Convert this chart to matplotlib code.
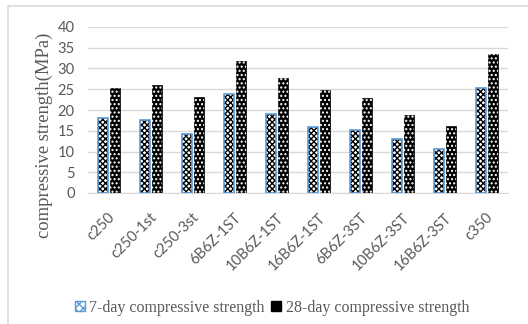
import matplotlib
matplotlib.use("Agg")
import matplotlib.pyplot as plt
import matplotlib.transforms as mtransforms
from matplotlib.patches import Rectangle, Patch
import numpy as np

categories = ["c250", "c250-1st", "c250-3st", "6B6Z-1ST", "10B6Z-1ST", "16B6Z-1ST",
              "6B6Z-3ST", "10B6Z-3ST", "16B6Z-3ST", "c350"]
day7 = [18.1, 17.6, 14.1, 23.9, 19.0, 16.0, 15.3, 12.9, 10.5, 25.2]
day28 = [25.2, 26.0, 23.1, 31.7, 27.8, 24.9, 22.9, 18.7, 16.1, 33.6]
yticks = [0, 5, 10, 15, 20, 25, 30, 35, 40]

GRAY = "#595959"
BLUE = "#5B9BD5"
plt.rcParams['hatch.linewidth'] = 1.0

fig = plt.figure(figsize=(5.28, 3.24), dpi=100)
ax = fig.add_axes([88/528, 1-193/324, 420/528, 166/324])

x = np.arange(len(categories))
w = 0.235
off = 0.145
# 7-day: white base, black checker hatch, blue edge
ax.bar(x - off, day7, w, color="white", edgecolor="white", linewidth=0, zorder=2)
ax.bar(x - off, day7, w, color="none", edgecolor="black", hatch="xxxxxx", linewidth=0, zorder=3)
ax.bar(x - off, day7, w, color="none", edgecolor=BLUE, linewidth=1.2, zorder=4)
# 28-day: black base, white dots
ax.bar(x + off, day28, w, color="black", edgecolor="black", linewidth=0.5, zorder=2)
ax.bar(x + off, day28, w, color="none", edgecolor="white", hatch="....", linewidth=0, zorder=3)

ax.set_xlim(-0.5, len(categories) - 0.5)
ax.set_ylim(0, 40)
ax.set_yticks(yticks)
ax.yaxis.grid(True, color="#D9D9D9", linewidth=1)
ax.set_axisbelow(True)
for s in ["top", "right", "left"]:
    ax.spines[s].set_visible(False)
ax.spines["bottom"].set_color("#D9D9D9")
ax.tick_params(axis="both", length=0, colors=GRAY)
ax.tick_params(axis="y", pad=9.4)
for lab in ax.get_yticklabels():
    lab.set_fontfamily("Lato")
    lab.set_fontsize(10.6)
ax.set_xticks(x)
ax.set_xticklabels(categories, rotation=45, ha="right", va="center", rotation_mode="anchor",
                   family="Lato", fontsize=10.5, color=GRAY)
ax.tick_params(axis="x", pad=16)
shift = mtransforms.ScaledTranslation(4/100, 0, fig.dpi_scale_trans)
for lab in ax.get_xticklabels():
    lab.set_transform(lab.get_transform() + shift)

fig.text(44/528, 1-135/324, "compressive strength(MPa)", rotation=90, ha="center", va="center",
         family="Liberation Serif", fontsize=13.4, color=GRAY)

h1 = Patch(facecolor="white", edgecolor=BLUE, hatch="xxxx", linewidth=1)
h2 = Patch(facecolor="black", edgecolor="black", hatch="..")
leg = fig.legend([h1, h2], ["7-day compressive strength", "28-day compressive strength"],
                 loc="center", bbox_to_anchor=(272/528, 1-308/324), ncol=2, frameon=False,
                 prop={"family": "Liberation Serif", "size": 11.5}, handlelength=0.6,
                 handleheight=0.6, handletextpad=0.3, columnspacing=0.4)
for t in leg.get_texts():
    t.set_color(GRAY)

# chart border
fig.patches.append(Rectangle((8/528, -0.1), 1.2, 1 - 6/324 + 0.1, transform=fig.transFigure,
                             fill=False, edgecolor="#D9D9D9", linewidth=1.2))

fig.savefig("out.png", dpi=100)
